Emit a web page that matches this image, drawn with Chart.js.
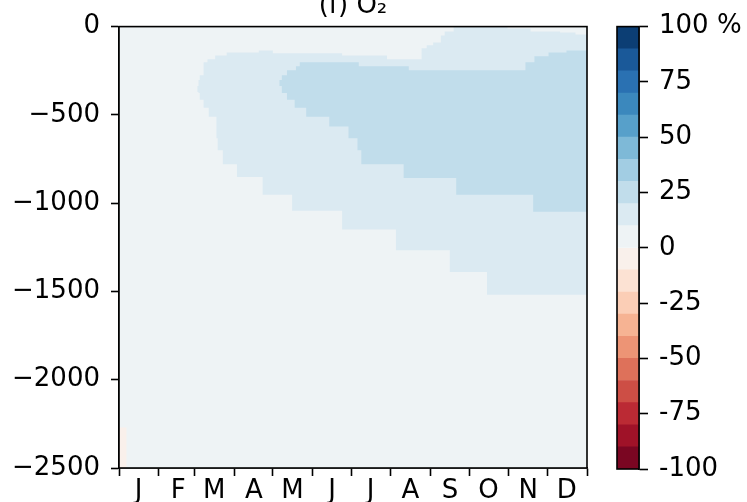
<!DOCTYPE html>
<html>
<head>
<meta charset="utf-8">
<script src="https://cdn.jsdelivr.net/npm/chart.js@4.4.1/dist/chart.umd.min.js"></script>
<style>
  html, body { margin: 0; padding: 0; background: #fff; overflow: hidden; }
  #wrap { position: relative; width: 747px; height: 502px; }
  #main { position: absolute; left: 0; top: 0; }
  #cbar { position: absolute; left: 600px; top: 0; }
</style>
</head>
<body>
<div id="wrap">
  <canvas id="main" width="600" height="502"></canvas>
  <canvas id="cbar" width="147" height="502"></canvas>
</div>
<script>
// meses y limites (dias del ano)
const meses = ['J', 'F', 'M', 'A', 'M', 'J', 'J', 'A', 'S', 'O', 'N', 'D'];
const inicioMes = [0, 31, 59, 90, 120, 151, 181, 212, 243, 273, 304, 334, 365];

// niveles de la barra de color (%)
const niveles = [-100, -90, -80, -70, -60, -50, -40, -30, -20, -10, 0, 10, 20, 30, 40, 50, 60, 70, 80, 90, 100];
const ticksBarra = [-100, -75, -50, -25, 0, 25, 50, 75, 100];

// zona 10-20 %: dia, profundidad superior, profundidad inferior (m)
const dias10 = [61, 62, 63, 66, 69, 70, 75, 76, 77, 81, 84, 92, 109, 112, 120, 135, 174, 209, 216, 236, 240, 245, 251, 254, 258, 261, 287, 303, 321, 344, 356, 365];
const techo10 = [-336, -303, -275, -202, -185, -185, -163, -163, -163, -163, -146, -146, -135, -135, -151, -151, -163, -185, -185, -123, -106, -90, -50, -28, -28, 0, 0, -11, -28, -34, -45, -50];
const fondo10 = [-370, -376, -415, -460, -460, -510, -510, -633, -701, -779, -779, -852, -852, -953, -953, -1043, -1149, -1149, -1267, -1267, -1267, -1267, -1267, -1267, -1390, -1390, -1519, -1519, -1519, -1519, -1519, -1519];

// zona 20-30 %
const dias20 = [125, 127, 131, 137, 138, 141, 146, 164, 179, 186, 187, 189, 222, 226, 263, 317, 323, 324, 335, 349, 365];
const techo20 = [-303, -275, -247, -247, -224, -202, -202, -202, -202, -202, -224, -224, -224, -247, -247, -202, -202, -168, -146, -135, -135];
const fondo20 = [-336, -376, -415, -460, -460, -460, -510, -566, -633, -701, -701, -779, -858, -858, -953, -953, -1048, -1048, -1048, -1048, -1048];

// zona 0 a -10 % (esquina inferior izquierda)
const diasNeg = [0, 6];
const techoNeg = [-2270, -2270];
const fondoNeg = [-2500, -2500];

// resto del dominio: 0-10 %
const diasFondo = [0, 365];
const valorFondo = [0, 0];

const colores = ['#7a0622', '#9f1228', '#bb2a34', '#cd4e45', '#de715a', '#ed9475', '#f6b393', '#fbceb6', '#fce2d3', '#f9f0eb',
                 '#eef3f5', '#dbeaf2', '#c1ddeb', '#a2cde3', '#7eb9d7', '#57a0ca', '#3b88bd', '#2a71b2', '#1a5999', '#0c3e74'];

const fuente = { family: 'DejaVu Sans', size: 26 };

function puntos(xs, ys) {
    return xs.map((x, i) => ({ x: x, y: ys[i] }));
}

function capa(xs, ys, relleno, color) {
    return {
        data: puntos(xs, ys),
        stepped: true,
        fill: relleno,
        backgroundColor: color || 'transparent',
        borderColor: 'transparent',
        borderWidth: 0,
        pointRadius: 0
    };
}

const marco = {
    id: 'marco',
    afterDraw(chart) {
        const { ctx, chartArea: a } = chart;
        ctx.save();
        ctx.strokeStyle = '#000';
        ctx.lineWidth = 1.6;
        ctx.strokeRect(a.left, a.top, a.right - a.left, a.bottom - a.top);
        ctx.restore();
    }
};

const titulo = {
    id: 'titulo',
    afterDraw(chart) {
        const { ctx, chartArea: a } = chart;
        ctx.save();
        ctx.font = '26px "DejaVu Sans"';
        ctx.fillStyle = '#000';
        ctx.textAlign = 'center';
        ctx.textBaseline = 'alphabetic';
        ctx.fillText('(f) O\u2082', (a.left + a.right) / 2, a.top - 14);
        ctx.restore();
    }
};

const rejilla = { display: true, drawOnChartArea: false, drawTicks: true, tickLength: 8, tickWidth: 1.6, tickColor: '#000' };
const borde = { display: true, color: '#000', width: 1.6 };

new Chart(document.getElementById('main').getContext('2d'), {
    type: 'line',
    data: {
        datasets: [
            capa(dias20, techo20, false),
            capa(dias20, fondo20, '-1', colores[12]),
            capa(dias10, techo10, false),
            capa(dias10, fondo10, '-1', colores[11]),
            capa(diasNeg, techoNeg, false),
            capa(diasNeg, fondoNeg, '-1', colores[9]),
            capa(diasFondo, valorFondo, 'start', colores[10])
        ]
    },
    options: {
        responsive: false,
        animation: false,
        events: [],
        layout: { padding: { left: 0, right: 13, top: 22, bottom: 0 } },
        plugins: { legend: { display: false }, tooltip: { enabled: false } },
        scales: {
            x: {
                type: 'linear',
                min: 0,
                max: 365,
                afterBuildTicks: (ax) => { ax.ticks = inicioMes.map(v => ({ value: v })); },
                afterFit: (ax) => { ax.height = 34; },
                grid: rejilla,
                border: borde,
                ticks: {
                    autoSkip: false,
                    maxRotation: 0,
                    labelOffset: 19.5,
                    padding: 0,
                    color: '#000',
                    font: fuente,
                    callback: (v, i) => meses[i] || ''
                }
            },
            y: {
                type: 'linear',
                min: -2500,
                max: 0,
                afterFit: (ax) => { ax.width = 119; },
                grid: rejilla,
                border: borde,
                ticks: {
                    stepSize: 500,
                    padding: 11,
                    color: '#000',
                    font: fuente,
                    callback: (v) => v < 0 ? '\u2212' + Math.abs(v) : String(v)
                }
            }
        }
    },
    plugins: [marco, titulo]
});

// barra de color
new Chart(document.getElementById('cbar').getContext('2d'), {
    type: 'bar',
    data: {
        labels: [''],
        datasets: niveles.slice(0, -1).map((lo, i) => ({
            data: [[lo, niveles[i + 1]]],
            backgroundColor: colores[i],
            borderWidth: 0,
            grouped: false,
            barPercentage: 1,
            categoryPercentage: 1
        }))
    },
    options: {
        responsive: false,
        animation: false,
        events: [],
        layout: { padding: { left: 17, right: 0, top: 22, bottom: 33 } },
        plugins: { legend: { display: false }, tooltip: { enabled: false } },
        scales: {
            x: { display: false },
            y: {
                position: 'right',
                min: -100,
                max: 100,
                afterBuildTicks: (ax) => { ax.ticks = ticksBarra.map(v => ({ value: v })); },
                afterFit: (ax) => { ax.width = 108; },
                grid: { display: true, drawOnChartArea: false, drawTicks: true, tickLength: 9, tickWidth: 1.6, tickColor: '#000' },
                border: borde,
                ticks: {
                    padding: 11,
                    color: '#000',
                    font: fuente,
                    callback: (v) => v === 100 ? '100 %' : String(v)
                }
            }
        }
    },
    plugins: [marco]
});
</script>
</body>
</html>
